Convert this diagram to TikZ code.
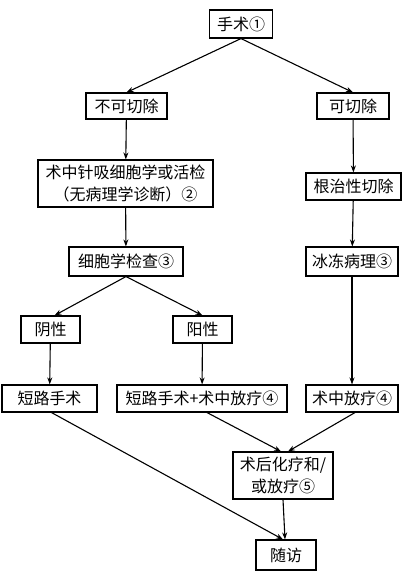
\documentclass[tikz,border=0pt]{standalone}
\usepackage{fontspec}
\newfontfamily\cjk{Noto Sans CJK SC}
\usetikzlibrary{arrows.meta}

\begin{document}
\begin{tikzpicture}[x=1pt, y=-1pt, >={Stealth[length=7pt,width=5pt]},
          box/.style={rectangle, draw, line width=1.1pt, inner sep=2pt,
            align=center, font=\cjk\fontsize{16}{21.5}\selectfont},
          arr/.style={->, line width=1.1pt}]
          \clip (0,0) rectangle (409,579);
          \useasboundingbox (0,0) rectangle (409,579);

          \node[box, minimum width=63pt, minimum height=28pt] (op) at (241,24) {手术①};
          \node[box, minimum width=81pt, minimum height=26pt] (nores) at (126.5,106) {不可切除};
          \node[box, minimum width=72pt, minimum height=26pt] (res) at (353,106) {可切除};
          \node[box, minimum width=175pt, minimum height=47pt] (biopsy) at (125.5,183.5) {术中针吸细胞学或活检\\（无病理学诊断）②};
          \node[box, minimum width=95pt, minimum height=27pt] (radical) at (353.5,186.5) {根治性切除};
          \node[box, minimum width=114pt, minimum height=29pt] (cyto) at (126,261.5) {细胞学检查③};
          \node[box, minimum width=92pt, minimum height=29pt] (frozen) at (352,261.5) {冰冻病理③};
          \node[box, minimum width=59pt, minimum height=27pt] (neg) at (50.5,329.5) {阴性};
          \node[box, minimum width=59pt, minimum height=27pt] (pos) at (202.5,329.5) {阳性};
          \node[box, minimum width=95pt, minimum height=27pt] (bypass) at (49.5,398.5) {短路手术};
          \node[box, minimum width=170pt, minimum height=27pt] (bypassrt) at (202,398.5) {短路手术+术中放疗④};
          \node[box, minimum width=92pt, minimum height=27pt] (iort) at (352,398.5) {术中放疗④};
          \node[box, minimum width=100pt, minimum height=47pt] (chemo) at (283,475.5) {术后化疗和/\\或放疗⑤};
          \node[box, minimum width=60pt, minimum height=30pt] (follow) at (286,555) {随访};

          \draw[arr] (op.south) -- (nores.north);
          \draw[arr] (op.south) -- (res.north);
          \draw[arr] (nores) -- (biopsy);
          \draw[arr] (res) -- (radical);
          \draw[arr] (biopsy) -- (cyto);
          \draw[arr] (radical) -- (frozen);
          \draw[arr] (cyto.south) -- ([xshift=4pt]neg.north);
          \draw[arr] (cyto.south) -- (pos.north);
          \draw[arr] (frozen) -- (iort);
          \draw[arr] (neg) -- (bypass);
          \draw[arr] (pos) -- (bypassrt);
          \draw[arr] ([xshift=5pt]bypassrt.south) -- ([xshift=-2pt]chemo.north);
          \draw[arr] ([xshift=3pt]iort.south) -- ([xshift=5pt]chemo.north);
          \draw[arr] ([xshift=2pt]bypass.south) -- ([xshift=-3pt]follow.north);
          \draw[arr] (chemo.south) -- ([xshift=-1pt]follow.north);
        \end{tikzpicture}
\end{document}
